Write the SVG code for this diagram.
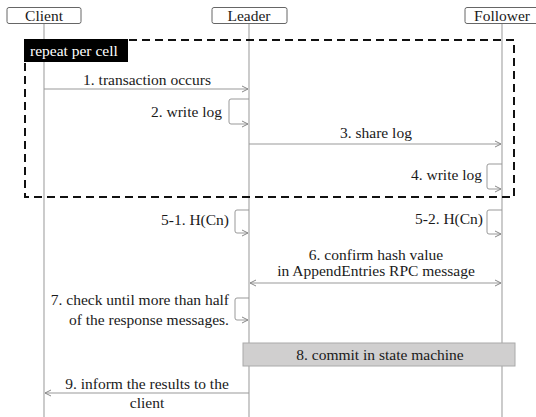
<svg xmlns="http://www.w3.org/2000/svg" width="536" height="417" viewBox="0 0 536 417">
<defs>
<marker id="ah" markerWidth="8" markerHeight="8" refX="7" refY="4" orient="auto" markerUnits="userSpaceOnUse">
<polyline points="1,1 7,4 1,7" fill="none" stroke="#888" stroke-width="1"/>
</marker>
<marker id="ahs" markerWidth="8" markerHeight="8" refX="1" refY="4" orient="auto" markerUnits="userSpaceOnUse">
<polyline points="7,1 1,4 7,7" fill="none" stroke="#888" stroke-width="1"/>
</marker>
</defs>
<style>
text{font-family:"Liberation Serif","Times New Roman",serif;font-size:15.5px;fill:#1a1a1a}
.hd{fill:#fff;stroke:#666;stroke-width:1}
.life{stroke:#b0b0b0;stroke-width:1.3;fill:none}
.msg{stroke:#999;stroke-width:1;fill:none;marker-end:url(#ah)}
.loop{stroke:#999;stroke-width:1;fill:none;marker-end:url(#ah)}
.mid{text-anchor:middle}
.end{text-anchor:end}
</style>
<rect width="536" height="417" fill="#fff"/>
<g id="lifelines">
<line class="life" x1="44" y1="23" x2="44" y2="417"/>
<line class="life" x1="249" y1="23" x2="249" y2="417"/>
<line class="life" x1="502" y1="23" x2="502" y2="417"/>
</g>
<g id="client"><rect class="hd" x="7" y="7.5" width="74" height="16" rx="2"/><text class="mid" x="44" y="20.5">Client</text></g>
<g id="leader"><rect class="hd" x="212" y="7.5" width="75" height="16" rx="2"/><text class="mid" x="249" y="20.5">Leader</text></g>
<g id="follower"><rect class="hd" x="465" y="7.5" width="75" height="16" rx="2"/><text class="mid" x="502" y="20.5">Follower</text></g>
<g id="frame">
<rect x="25" y="40" width="489" height="157" fill="none" stroke="#111" stroke-width="2" stroke-dasharray="8,5"/>
<rect x="24" y="39" width="104" height="23" fill="#000"/>
<text x="30" y="56" style="fill:#fff">repeat per cell</text>
</g>
<g id="commit">
<rect x="243" y="343" width="272" height="23" fill="#d0cfcf" stroke="#aaa" stroke-width="1"/>
<text class="mid" x="380" y="360">8. commit in state machine</text>
</g>
<g id="connectors">
<line class="msg" x1="44" y1="89" x2="248" y2="89"/>
<path class="loop" d="M249,99 H231 Q229,99 229,101 V122 Q229,124 231,124 H248"/>
<line class="msg" x1="249" y1="144" x2="501" y2="144"/>
<path class="loop" d="M502,164 H489 Q487,164 487,166 V187 Q487,189 489,189 H501"/>
<path class="loop" d="M249,210 H237 Q235,210 235,212 V231 Q235,233 237,233 H248"/>
<path class="loop" d="M502,210 H489 Q487,210 487,212 V232 Q487,234 489,234 H501"/>
<line class="msg" x1="250" y1="283" x2="501" y2="283" style="marker-start:url(#ahs)"/>
<path class="loop" d="M249,298 H237 Q235,298 235,300 V318 Q235,320 237,320 H248"/>
<line class="msg" x1="249" y1="393" x2="45" y2="393"/>
</g>
<g id="labels">
<text class="mid" x="147" y="85">1. transaction occurs</text>
<text class="end" x="222" y="117">2. write log</text>
<text class="mid" x="376" y="138">3. share log</text>
<text class="end" x="482" y="180">4. write log</text>
<text class="end" x="229" y="225">5-1. H(Cn)</text>
<text class="end" x="483" y="224">5-2. H(Cn)</text>
<text class="mid" x="376" y="260">6. confirm hash value</text>
<text class="mid" x="376" y="276">in AppendEntries RPC message</text>
<text class="end" x="229" y="305">7. check until more than half</text>
<text class="end" x="229" y="325">of the response messages.</text>
<text class="mid" x="147" y="389">9. inform the results to the</text>
<text class="mid" x="147" y="408">client</text>
</g>
</svg>
